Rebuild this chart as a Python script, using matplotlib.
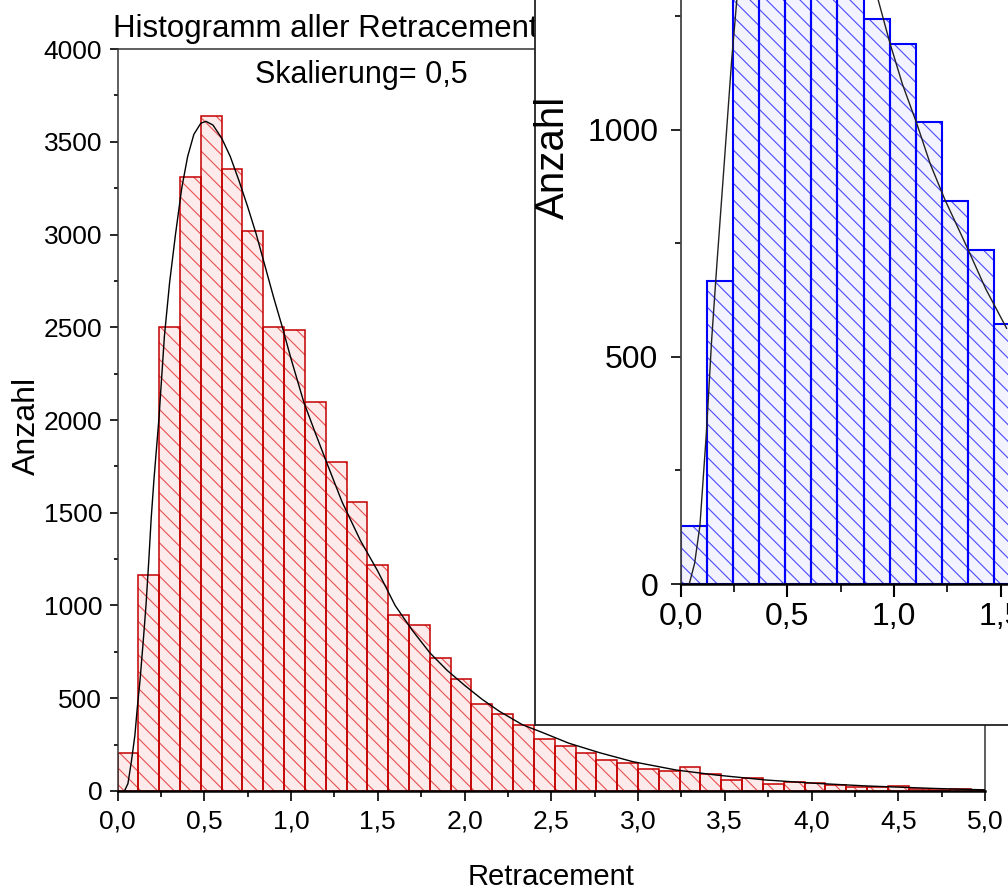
import numpy as np
import matplotlib
matplotlib.use('Agg')
import matplotlib.pyplot as plt
from matplotlib.ticker import MultipleLocator, FuncFormatter

plt.rcParams['font.family'] = ['Liberation Sans', 'DejaVu Sans']
plt.rcParams['hatch.linewidth'] = 0.8

# main histogram: bins of 0.12 starting at 0
bin_width = 0.12
counts = [207, 1166, 2500, 3310, 3639, 3355, 3020, 2500, 2484, 2095,
          1774, 1559, 1220, 948, 896, 717, 602, 470, 413, 357,
          278, 243, 207, 165, 153, 119, 108, 131, 93, 60,
          70, 38, 49, 43, 34, 22, 22, 27, 13, 7, 9, 4]

# fitted curve
fit_x = [0.04, 0.06, 0.08, 0.10, 0.114, 0.13, 0.15, 0.164, 0.18, 0.194,
         0.21, 0.238, 0.27, 0.30, 0.334, 0.37, 0.404, 0.44, 0.48, 0.51,
         0.55, 0.60, 0.65, 0.70, 0.75, 0.80, 0.85, 0.90, 0.95, 1.00,
         1.074, 1.14, 1.204, 1.294, 1.40, 1.50, 1.60, 1.70, 1.80, 1.90,
         2.00, 2.10, 2.20, 2.334, 2.45, 2.60, 2.78, 2.97, 3.22, 3.45,
         3.74, 4.03, 4.32, 4.70, 5.0]
fit_y = [0, 40, 160, 300, 450, 600, 830, 1000, 1240, 1470,
         1680, 2000, 2450, 2740, 3000, 3250, 3420, 3540, 3600, 3610,
         3590, 3520, 3420, 3290, 3150, 3000, 2830, 2660, 2500, 2330,
         2095, 1930, 1774, 1559, 1350, 1185, 1000, 865, 745, 650,
         570, 495, 430, 357, 315, 258, 206, 158, 113, 86,
         59, 41, 27, 14, 6]

# inset histogram (bars 2-6 run past the top of the picture)
inset_width = 0.1225
inset_counts = [128, 667, 1420, 1600, 1660, 1560, 1400, 1244, 1190, 1017, 844, 736, 572]
inset_fit_x = [0.04, 0.065, 0.09, 0.12, 0.145, 0.169, 0.20, 0.239, 0.263, 0.30,
               0.40, 0.51, 0.65, 0.85, 0.926, 0.981, 1.04, 1.106, 1.17, 1.239,
               1.341, 1.43, 1.528]
inset_fit_y = [0, 45, 128, 330, 537, 700, 900, 1154, 1286, 1480,
               1750, 1805, 1730, 1390, 1286, 1191, 1100, 1015, 925, 846,
               743, 650, 563]

comma = FuncFormatter(lambda v, _: f'{v:.1f}'.replace('.', ','))

fig = plt.figure(figsize=(10.08, 8.96), dpi=100)

# main axes
ax = fig.add_axes([0.1166, 0.1172, 0.8606, 0.8281])
edges = np.arange(len(counts)) * bin_width
ax.bar(edges, counts, width=bin_width, align='edge', color='#fdeaea',
       edgecolor='#e85050', linewidth=0, hatch='\\\\')
ax.bar(edges, counts, width=bin_width, align='edge', fill=False,
       edgecolor='#c40000', linewidth=1.1)
ax.plot(fit_x, fit_y, color='black', lw=1.0, zorder=3)
ax.set_xlim(0, 5.0)
ax.set_ylim(0, 4000)
ax.xaxis.set_major_locator(MultipleLocator(0.5))
ax.xaxis.set_minor_locator(MultipleLocator(0.25))
ax.yaxis.set_major_locator(MultipleLocator(500))
ax.yaxis.set_minor_locator(MultipleLocator(250))
ax.xaxis.set_major_formatter(comma)
ax.tick_params(axis='x', which='major', length=7, width=1.2, labelsize=19, pad=6)
ax.tick_params(axis='x', which='minor', length=4, width=1.2)
ax.tick_params(axis='y', which='major', length=6, width=1.2, labelsize=19, pad=5)
ax.tick_params(axis='y', which='minor', length=3, width=1.2)
for s in ['top', 'right', 'left']:
    ax.spines[s].set_linewidth(1.1)
    ax.spines[s].set_color('#333333')
ax.spines['bottom'].set_linewidth(1.8)
ax.set_xlabel('Retracement', fontsize=21)
ax.xaxis.set_label_coords(0.5, -0.097)
ax.set_ylabel('Anzahl', fontsize=23)
ax.yaxis.set_label_coords(-0.087, 0.492)
ax.text(-0.005, 1.016, 'Histogramm aller Retracement', transform=ax.transAxes,
        ha='left', va='baseline', fontsize=22.5)
ax.text(0.281, 0.954, 'Skalierung= 0,5', transform=ax.transAxes,
        ha='center', va='baseline', fontsize=22)

# white box behind the inset
box = fig.add_axes([0.5308, 0.1908, 0.6, 0.9])
box.set_xticks([])
box.set_yticks([])
for s in box.spines.values():
    s.set_linewidth(1.3)
    s.set_color('#222222')

# inset axes
ins = fig.add_axes([0.6753, 0.3482, 0.3247, 0.6518])
ins.patch.set_alpha(0)
iedges = np.arange(len(inset_counts)) * inset_width
ins.bar(iedges, inset_counts, width=inset_width, align='edge', color='#f3f3ff',
        edgecolor='#4a4aff', linewidth=0, hatch='\\\\')
ins.bar(iedges, inset_counts, width=inset_width, align='edge', fill=False,
        edgecolor='#0000ff', linewidth=1.5)
ins.plot(inset_fit_x, inset_fit_y, color='#222222', lw=1.0, zorder=3)
ins.set_xlim(0, 1.5345)
ins.set_ylim(0, 1286)
ins.xaxis.set_major_locator(MultipleLocator(0.5))
ins.xaxis.set_minor_locator(MultipleLocator(0.25))
ins.yaxis.set_major_locator(MultipleLocator(500))
ins.yaxis.set_minor_locator(MultipleLocator(250))
ins.xaxis.set_major_formatter(comma)
ins.tick_params(axis='x', which='major', length=9, width=1.5, labelsize=23, pad=4)
ins.tick_params(axis='x', which='minor', length=6, width=1.2)
ins.tick_params(axis='y', which='major', length=7, width=1.2, labelsize=23, pad=9)
ins.tick_params(axis='y', which='minor', length=4, width=1.2)
ins.spines['top'].set_visible(False)
ins.spines['right'].set_visible(False)
ins.spines['left'].set_color('#444444')
ins.spines['left'].set_linewidth(1.3)
ins.spines['bottom'].set_linewidth(1.8)
ins.set_ylabel('Anzahl', fontsize=29)
ins.yaxis.set_label_coords(-0.333, 0.731)

fig.savefig('out.png', dpi=100)
